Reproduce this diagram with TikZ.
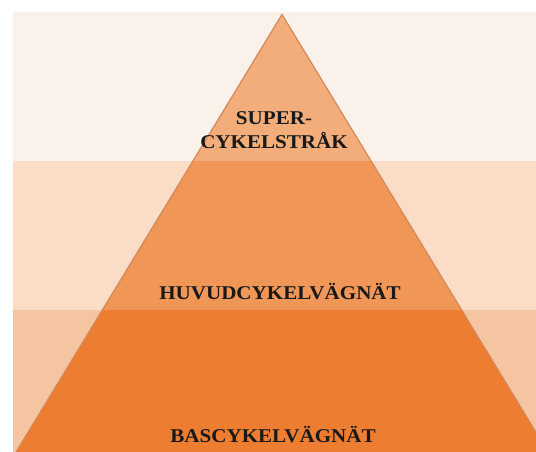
\documentclass[tikz,border=0pt]{standalone}
\usepackage{fontspec}
\setmainfont{Liberation Serif}
\definecolor{bandA}{HTML}{FBF1EB}
\definecolor{bandB}{HTML}{FADCC7}
\definecolor{bandC}{HTML}{F5C4A1}
\definecolor{triA}{HTML}{F2AD7B}
\definecolor{triB}{HTML}{F09657}
\definecolor{triC}{HTML}{ED7D31}
\definecolor{triEdge}{HTML}{D3895A}
\tikzset{
  lbl/.style={font=\bfseries\fontsize{19.5}{24.5}\selectfont, text=black!90, align=center, inner sep=0pt, xscale=1.08}
}
\begin{document}
\begin{tikzpicture}[x=1pt,y=-1pt]
\useasboundingbox (0,0) rectangle (536,452);
\clip (0,0) rectangle (536,452);
% background bands
\fill[bandA] (13,12) rectangle (536,161);
\fill[bandB] (13,161) rectangle (536,310);
\fill[bandC] (13,310) rectangle (536,452);
% pyramid
\coordinate (apex) at (282,14.5);
\coordinate (bl) at (16,452);
\coordinate (br) at (548,452);
\begin{scope}
\clip (apex) -- (bl) -- (br) -- cycle;
\fill[triA] (0,0) rectangle (560,161);
\fill[triB] (0,161) rectangle (560,310);
\fill[triC] (0,310) rectangle (560,460);
\end{scope}
\draw[triEdge, line width=1.2pt, line join=miter] (bl) -- (apex) -- (br);
% labels
\node[lbl] (sup) at (274,130) {SUPER-\\CYKELSTRÅK};
\node[lbl] (huv) at (280,292) {HUVUDCYKELVÄGNÄT};
\node[lbl] (bas) at (273,435) {BASCYKELVÄGNÄT};
\end{tikzpicture}
\end{document}
